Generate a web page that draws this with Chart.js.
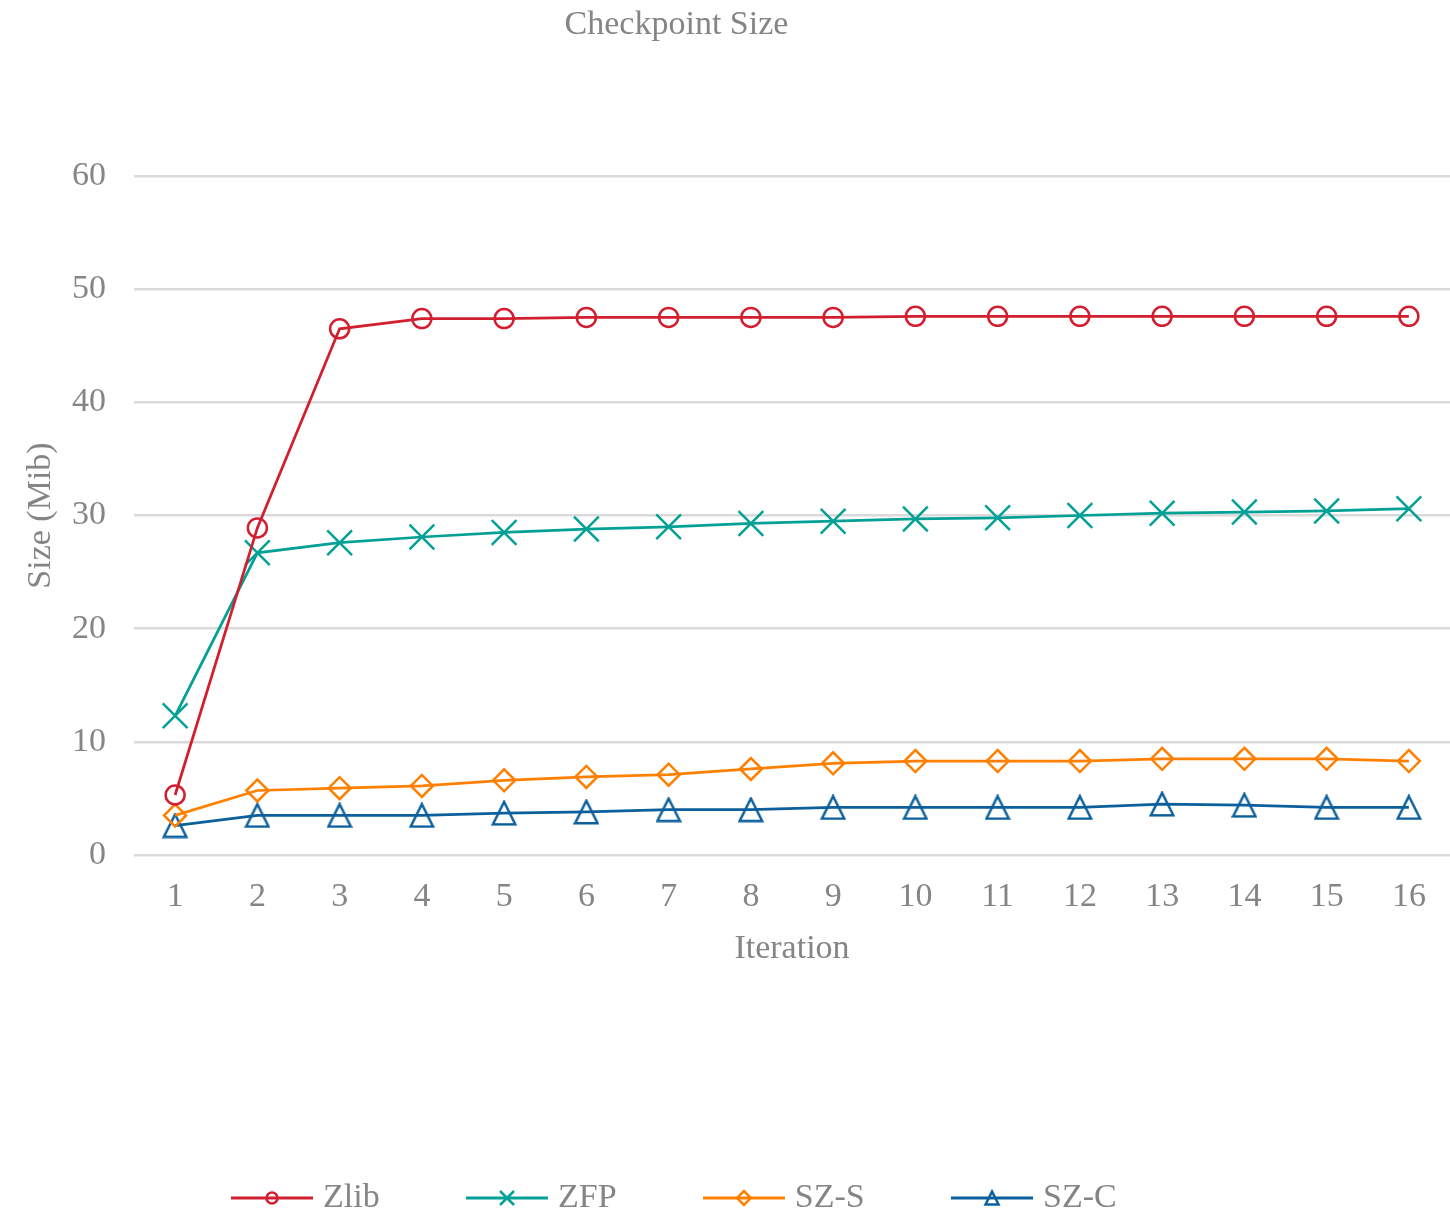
<!DOCTYPE html>
<html>
<head>
<meta charset="utf-8">
<title>Checkpoint Size</title>
<script src="https://cdn.jsdelivr.net/npm/chart.js@4/dist/chart.umd.min.js"></script>
<style>
  html, body { margin: 0; padding: 0; background: #ffffff; overflow: hidden; }
  #wrap { width: 1450px; height: 1210px; }
  canvas { display: block; }
</style>
</head>
<body>
<div id="wrap"><canvas id="chart" width="1450" height="1210"></canvas></div>
<script>
// Iterations on the x axis
const iterations = ['1', '2', '3', '4', '5', '6', '7', '8', '9', '10', '11', '12', '13', '14', '15', '16'];

// Checkpoint size per compressor (MiB)
const zlibSize = [5.3, 28.9, 46.5, 47.4, 47.4, 47.5, 47.5, 47.5, 47.5, 47.6, 47.6, 47.6, 47.6, 47.6, 47.6, 47.6];
const zfpSize  = [12.3, 26.7, 27.6, 28.1, 28.5, 28.8, 29.0, 29.3, 29.5, 29.7, 29.8, 30.0, 30.2, 30.3, 30.4, 30.6];
const szsSize  = [3.5, 5.7, 5.9, 6.1, 6.6, 6.9, 7.1, 7.6, 8.1, 8.3, 8.3, 8.3, 8.5, 8.5, 8.5, 8.3];
const szcSize  = [2.6, 3.5, 3.5, 3.5, 3.7, 3.8, 4.0, 4.0, 4.2, 4.2, 4.2, 4.2, 4.5, 4.4, 4.2, 4.2];

const seriesNames = ['Zlib', 'ZFP', 'SZ-S', 'SZ-C'];

// Y axis range and ticks
const yMin = 0;
const yMax = 60;
const yStep = 10;

const COLORS = {
  zlib: '#D21F2F',
  zfp:  '#03A096',
  szs:  '#FF8000',
  szc:  '#0A5F9C'
};
const TEXT = '#858585';
const GRID = '#DADADA';
const FONT = "'Liberation Serif', 'Times New Roman', serif";
const FS = 34;

// Open isosceles triangle marker, centred on its bounding box
function triangleIcon(size, color, lw) {
  const c = document.createElement('canvas');
  c.width = size; c.height = size;
  const g = c.getContext('2d');
  g.strokeStyle = color;
  g.lineWidth = lw;
  g.lineJoin = 'miter';
  const m = lw / 2 + 0.5;
  g.beginPath();
  g.moveTo(size / 2, m);
  g.lineTo(size - m, size - m);
  g.lineTo(m, size - m);
  g.closePath();
  g.stroke();
  return c;
}

// Legend glyph: a short line segment with the series marker in the middle
function legendIcon(kind, color) {
  const w = 82, h = 22;
  const c = document.createElement('canvas');
  c.width = w; c.height = h;
  const g = c.getContext('2d');
  const cx = w / 2, cy = h / 2;
  g.strokeStyle = color;
  g.lineWidth = 3;
  g.beginPath();
  g.moveTo(0, cy);
  g.lineTo(w, cy);
  g.stroke();
  g.lineWidth = 2.5;
  g.beginPath();
  if (kind === 'circle') {
    g.arc(cx, cy, 5.5, 0, Math.PI * 2);
  } else if (kind === 'cross') {
    const r = 7;
    g.moveTo(cx - r, cy - r); g.lineTo(cx + r, cy + r);
    g.moveTo(cx + r, cy - r); g.lineTo(cx - r, cy + r);
  } else if (kind === 'diamond') {
    const r = 7;
    g.moveTo(cx, cy - r); g.lineTo(cx + r, cy); g.lineTo(cx, cy + r); g.lineTo(cx - r, cy); g.closePath();
  } else if (kind === 'triangle') {
    const r = 6.5;
    g.moveTo(cx, cy - r); g.lineTo(cx + r, cy + r); g.lineTo(cx - r, cy + r); g.closePath();
  }
  g.stroke();
  return c;
}

const legendIcons = [
  legendIcon('circle', COLORS.zlib),
  legendIcon('cross', COLORS.zfp),
  legendIcon('diamond', COLORS.szs),
  legendIcon('triangle', COLORS.szc)
];

// Title and legend sit a little left of the canvas centre; legend row starts at a fixed x
const TITLE_SHIFT = -48.5;
const LEGEND_START = 238;
const LEGEND_DROP = 15;

const nudgeBoxes = {
  id: 'nudgeBoxes',
  afterLayout(chart) {
    const t = chart.titleBlock;
    if (t) { t.left += TITLE_SHIFT; t.right += TITLE_SHIFT; }
    const lg = chart.legend;
    if (lg) {
      const pad = lg.options.labels.padding;
      const dx = LEGEND_START - pad - lg.left;
      lg.left += dx; lg.right += dx;
      lg.top += LEGEND_DROP; lg.bottom += LEGEND_DROP;
    }
  }
};

function series(label, data, color, extra) {
  return Object.assign({
    label: label,
    data: data,
    borderColor: color,
    backgroundColor: color,
    borderWidth: 2.75,
    tension: 0,
    fill: false,
    clip: false,
    pointBorderColor: color,
    pointBackgroundColor: 'rgba(0,0,0,0)',
    pointBorderWidth: 2.5,
    pointHoverRadius: 0
  }, extra);
}

new Chart(document.getElementById('chart'), {
  type: 'line',
  data: {
    labels: iterations,
    datasets: [
      series(seriesNames[0], zlibSize, COLORS.zlib, { pointStyle: 'circle', pointRadius: 9.5 }),
      series(seriesNames[1], zfpSize, COLORS.zfp, { pointStyle: 'crossRot', pointRadius: 17.5 }),
      series(seriesNames[2], szsSize, COLORS.szs, { pointStyle: 'rectRot', pointRadius: 11 }),
      series(seriesNames[3], szcSize, COLORS.szc, { pointStyle: triangleIcon(26, COLORS.szc, 2.5), pointRadius: 13 })
    ]
  },
  options: {
    responsive: false,
    animation: false,
    events: [],
    layout: { padding: 0, autoPadding: false },
    font: { family: FONT, size: FS },
    scales: {
      x: {
        type: 'category',
        offset: true,
        grid: { display: false, drawTicks: false },
        border: { display: false },
        ticks: {
          color: TEXT,
          font: { family: FONT, size: FS },
          padding: 21.6,
          maxRotation: 0,
          autoSkip: false
        },
        title: {
          display: true,
          text: 'Iteration',
          color: TEXT,
          font: { family: FONT, size: FS },
          padding: { top: 0, bottom: 103.3 }
        },
        afterFit(scale) {
          scale.height = 217.7;
          scale.paddingLeft = 0;
          scale.paddingRight = 0;
        }
      },
      y: {
        min: yMin,
        max: yMax,
        grid: { color: GRID, lineWidth: 2.5, drawTicks: false },
        border: { display: false },
        ticks: {
          stepSize: yStep,
          color: TEXT,
          font: { family: FONT, size: FS },
          padding: 28
        },
        title: {
          display: true,
          text: 'Size (Mib)',
          color: TEXT,
          font: { family: FONT, size: FS },
          padding: { top: 20.5, bottom: 0 }
        },
        afterFit(scale) { scale.width = 134; }
      }
    },
    plugins: {
      title: {
        display: true,
        text: 'Checkpoint Size',
        color: TEXT,
        font: { family: FONT, size: FS, weight: 'normal' },
        padding: { top: 5, bottom: 130.2 }
      },
      legend: {
        display: true,
        position: 'bottom',
        align: 'start',
        labels: {
          usePointStyle: true,
          pointStyleWidth: 68,
          padding: 93.3,
          color: TEXT,
          font: { family: FONT, size: FS },
          generateLabels(chart) {
            const items = Chart.defaults.plugins.legend.labels.generateLabels(chart);
            items.forEach((it, i) => { it.pointStyle = legendIcons[i]; it.fontColor = TEXT; });
            return items;
          }
        }
      },
      tooltip: { enabled: false }
    }
  },
  plugins: [nudgeBoxes]
});
</script>
</body>
</html>
